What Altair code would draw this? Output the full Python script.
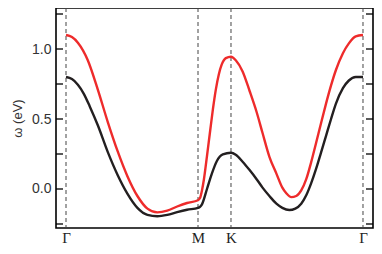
import altair as alt
import pandas as pd

# path coordinate (Γ=0, M=1, K=1.25, Γ=2.25)
red_k = [0.000, 0.045, 0.090, 0.165, 0.241, 0.316, 0.391, 0.466, 0.541, 0.617, 0.692, 0.767,
         0.842, 0.917, 1.000, 1.015, 1.030, 1.045, 1.068, 1.090, 1.113, 1.135, 1.158, 1.180,
         1.211, 1.250, 1.286, 1.338, 1.391, 1.444, 1.489, 1.541, 1.594, 1.639, 1.669, 1.707,
         1.744, 1.782, 1.820, 1.857, 1.895, 1.932, 1.970, 2.008, 2.045, 2.098, 2.143, 2.195, 2.250]
red_w = [1.10, 1.085, 1.045, 0.92, 0.71, 0.48, 0.27, 0.09, -0.05, -0.14, -0.167, -0.155,
         -0.125, -0.10, -0.08, -0.065, -0.01, 0.07, 0.235, 0.40, 0.57, 0.71, 0.82, 0.89,
         0.935, 0.945, 0.92, 0.84, 0.70, 0.55, 0.40, 0.23, 0.11, 0.01, -0.03, -0.058,
         -0.05, -0.01, 0.07, 0.19, 0.33, 0.47, 0.61, 0.74, 0.85, 0.97, 1.04, 1.09, 1.10]

black_k = [0.000, 0.045, 0.090, 0.135, 0.180, 0.241, 0.316, 0.391, 0.466, 0.541, 0.617, 0.692,
           0.767, 0.842, 0.917, 1.000, 1.015, 1.030, 1.068, 1.105, 1.143, 1.188, 1.250, 1.286,
           1.338, 1.391, 1.444, 1.489, 1.541, 1.594, 1.639, 1.692, 1.737, 1.782, 1.820, 1.857,
           1.895, 1.932, 1.970, 2.008, 2.045, 2.098, 2.143, 2.195, 2.250]
black_w = [0.80, 0.785, 0.745, 0.68, 0.59, 0.455, 0.265, 0.10, -0.035, -0.135, -0.185, -0.195,
           -0.185, -0.165, -0.148, -0.135, -0.128, -0.11, 0.0, 0.11, 0.20, 0.247, 0.259, 0.245,
           0.195, 0.135, 0.07, 0.01, -0.05, -0.105, -0.135, -0.15, -0.14, -0.105, -0.045, 0.04,
           0.145, 0.26, 0.38, 0.50, 0.61, 0.72, 0.775, 0.80, 0.80]

x_ticks = [0, 1.0, 1.25, 2.25]
x_labels = ["Γ", "M", "K", "Γ"]
y_major = [0.0, 0.5, 1.0]
y_minor_all = [-0.25, 0.0, 0.25, 0.5, 0.75, 1.0, 1.25]

df = pd.concat([
    pd.DataFrame({"k": black_k, "w": black_w, "band": "black"}),
    pd.DataFrame({"k": red_k, "w": red_w, "band": "red"}),
])
sym = pd.DataFrame({"k": x_ticks})
ticks = pd.DataFrame({"w": y_minor_all})

label_expr = " : ".join(
    f"datum.value == {v} ? '{l}'" for v, l in zip(x_ticks, x_labels)
) + " : ''"

xs = alt.Scale(domain=[-0.0758, 2.3258], nice=False, zero=False)
ys = alt.Scale(domain=[-0.2786, 1.2929], nice=False, zero=False)

W, H = 317, 220

xaxis = alt.Axis(values=x_ticks, labelExpr=label_expr, title=None, grid=False, tickSize=0,
                 domain=False, labelFont="Liberation Serif", labelFontSize=15,
                 labelColor="#222", labelPadding=2, labelFlush=False)
yaxis = alt.Axis(values=y_major, format=".1f", title="ω (eV)", grid=False, tickSize=0,
                 domain=False, labelFont="Liberation Sans", labelFontSize=14,
                 labelColor="#333", labelPadding=5, titleFont="Liberation Sans",
                 titleFontSize=13, titleFontWeight="normal", titleColor="#333",
                 titlePadding=7)

rules = alt.Chart(sym).mark_rule(strokeDash=[4, 3], color="#444", strokeWidth=1).encode(
    x=alt.X("k:Q", scale=xs, axis=xaxis)
)

lines = alt.Chart(df).mark_line(strokeWidth=2.4, interpolate="monotone").encode(
    x=alt.X("k:Q", scale=xs, axis=xaxis),
    y=alt.Y("w:Q", scale=ys, axis=yaxis),
    color=alt.Color("band:N", scale=alt.Scale(domain=["black", "red"],
                                              range=["#231f20", "#ee2b2b"]), legend=None),
    detail="band:N",
)

lt = alt.Chart(ticks).mark_rule(color="black", strokeWidth=1.3).encode(
    y=alt.Y("w:Q", scale=ys, axis=yaxis), x=alt.value(0), x2=alt.value(7)
)
rt = alt.Chart(ticks).mark_rule(color="black", strokeWidth=1.3).encode(
    y=alt.Y("w:Q", scale=ys, axis=yaxis), x=alt.value(W - 7), x2=alt.value(W)
)

chart = alt.layer(rules, lines, lt, rt).properties(
    width=W, height=H,
    autosize=alt.AutoSizeParams(type="none"),
    padding={"left": 48, "top": 0, "right": 1, "bottom": 18},
).configure_view(stroke="black", strokeWidth=1.6)

chart.save("out.html", embed_options={"renderer": "svg", "actions": False})
